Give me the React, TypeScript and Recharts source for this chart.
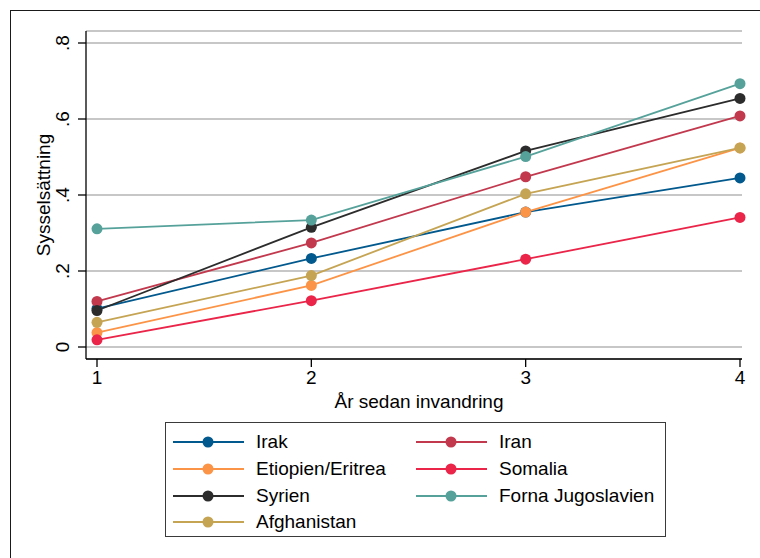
import React from 'react';
import { LineChart, Line, XAxis, YAxis, CartesianGrid } from 'recharts';

// År sedan invandring
const years = [1, 2, 3, 4];

// Sysselsättning per land
const irak = [0.101, 0.233, 0.355, 0.445];
const iran = [0.12, 0.274, 0.448, 0.608];
const etiopien = [0.038, 0.162, 0.355, 0.524];
const somalia = [0.019, 0.122, 0.231, 0.341];
const syrien = [0.096, 0.315, 0.516, 0.654];
const forna = [0.311, 0.334, 0.501, 0.693];
const afghanistan = [0.065, 0.188, 0.403, 0.524];

const yTicks = [0, 0.2, 0.4, 0.6, 0.8];
const yTickLabels = ['0', '.2', '.4', '.6', '.8'];

// legend order is row by row, same as draw order
const series = [
  { key: 'irak', name: 'Irak', values: irak, color: '#02598d' },
  { key: 'iran', name: 'Iran', values: iran, color: '#c2394e' },
  { key: 'etiopien', name: 'Etiopien/Eritrea', values: etiopien, color: '#fc9447' },
  { key: 'somalia', name: 'Somalia', values: somalia, color: '#ea2549' },
  { key: 'syrien', name: 'Syrien', values: syrien, color: '#2c2c2c' },
  { key: 'forna', name: 'Forna Jugoslavien', values: forna, color: '#56a29b' },
  { key: 'afghanistan', name: 'Afghanistan', values: afghanistan, color: '#c5a453' },
];

const data = years.map((year, i) => {
  const row: any = { year };
  series.forEach((s) => {
    row[s.key] = s.values[i];
  });
  return row;
});

const FONT = '"Liberation Sans", Arial, sans-serif';

const YTick = ({ x, y, payload }: any) => {
  const idx = yTicks.indexOf(payload.value);
  const cx = x - 7;
  return (
    <text
      x={cx}
      y={y}
      transform={`rotate(-90 ${cx} ${y})`}
      textAnchor="middle"
      fontSize={19}
      fontFamily={FONT}
      fill="#000"
    >
      {idx >= 0 ? yTickLabels[idx] : payload.value}
    </text>
  );
};

const XTick = ({ x, y, payload }: any) => (
  <text x={x} y={y + 15} textAnchor="middle" fontSize={19} fontFamily={FONT} fill="#000">
    {payload.value}
  </text>
);

const LegendBox = () => (
  <div
    style={{
      position: 'absolute',
      left: 165,
      top: 422,
      boxSizing: 'border-box',
      width: 501,
      height: 115,
      border: '1.3px solid #3a3a3a',
      padding: '6px 0 0 7px',
      display: 'grid',
      gridTemplateColumns: '243px 243px',
      gridAutoRows: '26.7px',
      fontFamily: FONT,
      fontSize: 19,
      color: '#000',
      background: '#fff',
    }}
  >
    {series.map((s) => (
      <div key={s.key} style={{ display: 'flex', alignItems: 'center' }}>
        <svg width={83} height={14} style={{ flex: 'none' }}>
          <line x1={0} y1={7} x2={71} y2={7} stroke={s.color} strokeWidth={1.8} />
          <circle cx={35} cy={7} r={5.5} fill={s.color} />
        </svg>
        <span style={{ whiteSpace: 'nowrap' }}>{s.name}</span>
      </div>
    ))}
  </div>
);

export default function App() {
  return (
    <div
      style={{
        position: 'fixed',
        left: 0,
        top: 0,
        width: 760,
        height: 558,
        overflow: 'hidden',
        background: '#fff',
      }}
    >
      {/* outer graph region frame, cut off at right and bottom */}
      <div
        style={{
          position: 'absolute',
          left: 10,
          top: 10,
          width: 800,
          height: 600,
          border: '1.5px solid #1a1a1a',
        }}
      />
      <LineChart
        width={760}
        height={558}
        data={data}
        margin={{ top: 31, right: 18, left: 0, bottom: 149 }}
        style={{ position: 'absolute', left: 0, top: 0 }}
      >
        <CartesianGrid vertical={false} stroke="#b4b4b4" strokeWidth={1.6} />
        <XAxis
          dataKey="year"
          type="number"
          domain={[1, 4]}
          ticks={years}
          padding={{ left: 11, right: 2 }}
          height={50}
          axisLine={{ stroke: '#000', strokeWidth: 1.3 }}
          tickLine={{ stroke: '#000', strokeWidth: 1.3 }}
          tickSize={8}
          tick={<XTick />}
          label={{
            content: ({ viewBox }: any) => (
              <text
                x={viewBox.x + viewBox.width / 2 + 5}
                y={viewBox.y + 49}
                textAnchor="middle"
                fontSize={19}
                fontFamily={FONT}
                fill="#000"
              >
                År sedan invandring
              </text>
            ),
          }}
        />
        <YAxis
          type="number"
          domain={[0, 0.8]}
          ticks={yTicks}
          padding={{ top: 12, bottom: 12 }}
          width={86}
          axisLine={{ stroke: '#000', strokeWidth: 1.3 }}
          tickLine={{ stroke: '#000', strokeWidth: 1.3 }}
          tickSize={8}
          tick={<YTick />}
          label={{
            content: ({ viewBox }: any) => {
              const cx = 50;
              const cy = viewBox.y + viewBox.height / 2;
              return (
                <text
                  x={cx}
                  y={cy}
                  transform={`rotate(-90 ${cx} ${cy})`}
                  textAnchor="middle"
                  fontSize={19}
                  fontFamily={FONT}
                  fill="#000"
                >
                  Sysselsättning
                </text>
              );
            },
          }}
        />
        {series.map((s) => (
          <Line
            key={s.key}
            type="linear"
            dataKey={s.key}
            name={s.name}
            stroke={s.color}
            strokeWidth={1.8}
            dot={{ r: 5.5, fill: s.color, stroke: 'none' }}
            activeDot={false}
            isAnimationActive={false}
          />
        ))}
      </LineChart>
      <LegendBox />
    </div>
  );
}
